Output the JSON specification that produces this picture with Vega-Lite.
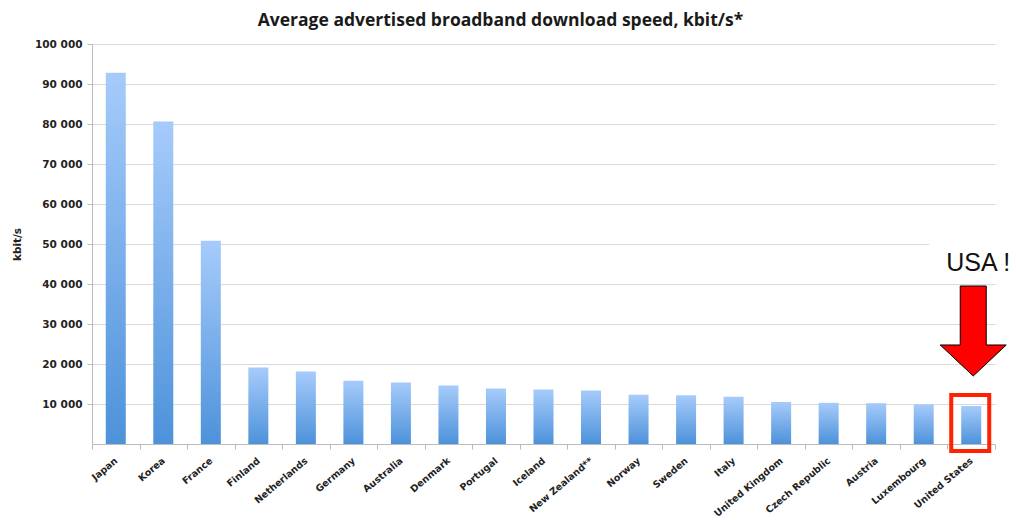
{
  "$schema": "https://vega.github.io/schema/vega-lite/v6.json",
  "width": 903,
  "height": 400,
  "autosize": "none",
  "padding": {"left": 92, "top": 44, "right": 21, "bottom": 76},
  "background": "white",
  "title": {
    "text": "Average advertised broadband download speed, kbit/s*",
    "font": "Open Sans",
    "fontSize": 17.5,
    "fontWeight": "bold",
    "color": "#1a1a1a",
    "anchor": "middle",
    "dx": -43,
    "offset": 10
  },
  "config": {
    "view": {"stroke": null},
    "axis": {"labelFont": "DejaVu Sans", "titleFont": "DejaVu Sans"}
  },
  "datasets": {
    "speeds": [
      {"country": "Japan", "speed": 92800},
      {"country": "Korea", "speed": 80600},
      {"country": "France", "speed": 50800},
      {"country": "Finland", "speed": 19100},
      {"country": "Netherlands", "speed": 18100},
      {"country": "Germany", "speed": 15800},
      {"country": "Australia", "speed": 15400},
      {"country": "Denmark", "speed": 14600},
      {"country": "Portugal", "speed": 13900},
      {"country": "Iceland", "speed": 13600},
      {"country": "New Zealand**", "speed": 13400},
      {"country": "Norway", "speed": 12300},
      {"country": "Sweden", "speed": 12200},
      {"country": "Italy", "speed": 11800},
      {"country": "United Kingdom", "speed": 10500},
      {"country": "Czech Republic", "speed": 10300},
      {"country": "Austria", "speed": 10200},
      {"country": "Luxembourg", "speed": 9900},
      {"country": "United States", "speed": 9500}
    ],
    "annot": [
      {"country": "United States", "label": "USA !", "boxTop": 50500, "boxBottom": 41000, "textY": 45300, "arrowY": 28250, "frameTop": 12250, "frameBottom": -1750}
    ]
  },
  "layer": [
    {
      "data": {"name": "speeds"},
      "mark": {
        "type": "bar",
        "width": 20,
        "color": {
          "gradient": "linear",
          "x1": 0, "y1": 0, "x2": 0, "y2": 1,
          "stops": [
            {"offset": 0, "color": "#a6cbfb"},
            {"offset": 1, "color": "#4d92da"}
          ]
        }
      },
      "encoding": {
        "x": {
          "field": "country",
          "type": "nominal",
          "sort": null,
          "scale": {"paddingInner": 0, "paddingOuter": 0},
          "axis": {
            "title": null,
            "labelAngle": -40,
            "labelAlign": "right",
            "labelBaseline": "middle",
            "labelFontSize": 9.5,
            "labelFontWeight": "bold",
            "labelColor": "#222222",
            "labelPadding": 10,
            "tickBand": "extent",
            "tickSize": 5,
            "tickColor": "#bbbbbb",
            "domainColor": "#bbbbbb",
            "grid": false
          }
        },
        "y": {
          "field": "speed",
          "type": "quantitative",
          "scale": {"domain": [0, 100000], "nice": false},
          "axis": {
            "title": "kbit/s",
            "titleFontSize": 10.5,
            "titleFontWeight": "bold",
            "titleColor": "#222222",
            "titlePadding": 12,
            "values": [10000, 20000, 30000, 40000, 50000, 60000, 70000, 80000, 90000, 100000],
            "labelExpr": "replace(format(datum.value, ','), ',', ' ')",
            "labelFontSize": 10.5,
            "labelFontWeight": "bold",
            "labelColor": "#222222",
            "labelPadding": 5,
            "tickSize": 5,
            "tickColor": "#bbbbbb",
            "domainColor": "#bbbbbb",
            "gridColor": "#d9d9d9",
            "gridWidth": 1
          }
        }
      }
    },
    {
      "data": {"name": "annot"},
      "mark": {"type": "bar", "width": 84, "color": "white", "clip": false},
      "encoding": {
        "x": {"field": "country", "type": "nominal", "sort": null},
        "y": {"field": "boxTop", "type": "quantitative"},
        "y2": {"field": "boxBottom"}
      }
    },
    {
      "data": {"name": "annot"},
      "mark": {"type": "text", "font": "Liberation Sans", "fontSize": 25, "color": "#111111", "align": "center", "baseline": "middle", "dx": 7, "clip": false},
      "encoding": {
        "x": {"field": "country", "type": "nominal", "sort": null},
        "y": {"field": "textY", "type": "quantitative"},
        "text": {"field": "label"}
      }
    },
    {
      "data": {"name": "annot"},
      "mark": {
        "type": "point",
        "shape": "M -0.289 -1 L 0.289 -1 L 0.289 0.311 L 0.733 0.311 L 0 1 L -0.733 0.311 L -0.289 0.311 Z",
        "size": 8100,
        "filled": true,
        "fill": "#ff0000",
        "fillOpacity": 1,
        "stroke": "#000000",
        "strokeWidth": 1,
        "xOffset": 2,
        "clip": false
      },
      "encoding": {
        "x": {"field": "country", "type": "nominal", "sort": null},
        "y": {"field": "arrowY", "type": "quantitative"}
      }
    },
    {
      "data": {"name": "annot"},
      "mark": {"type": "bar", "width": 38, "fill": null, "fillOpacity": 0, "stroke": "#ff2200", "strokeWidth": 4, "clip": false, "xOffset": -1},
      "encoding": {
        "x": {"field": "country", "type": "nominal", "sort": null},
        "y": {"field": "frameTop", "type": "quantitative"},
        "y2": {"field": "frameBottom"}
      }
    }
  ]
}
